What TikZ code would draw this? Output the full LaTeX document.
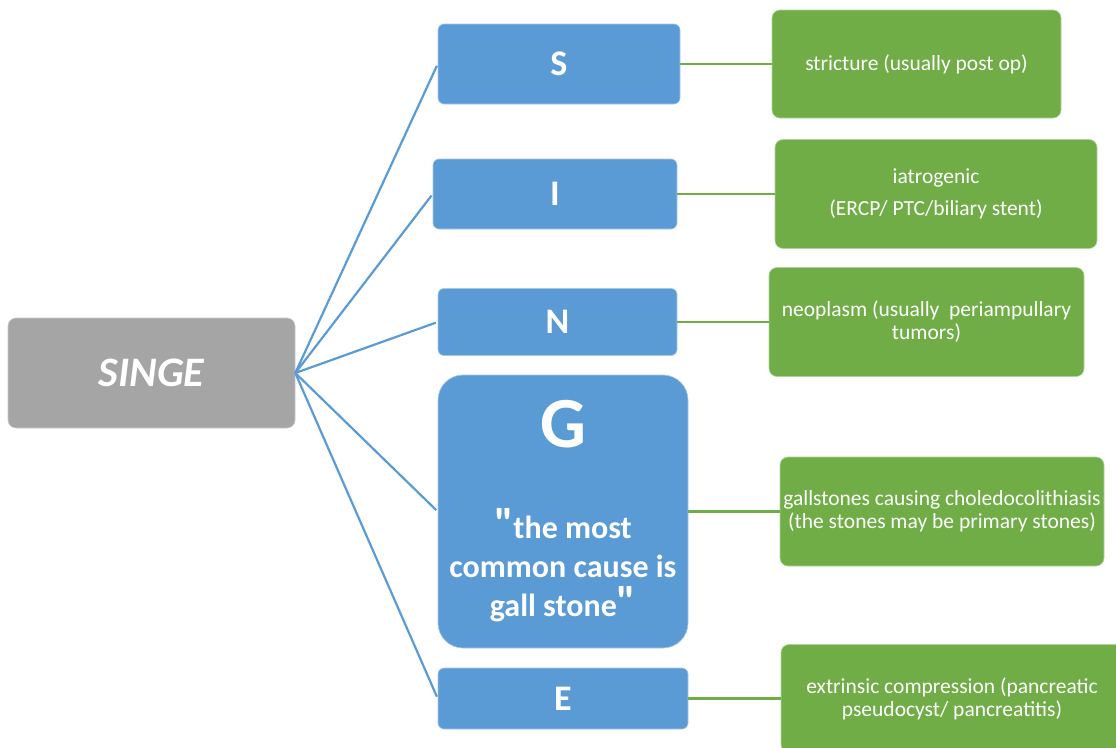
\documentclass[tikz,border=0pt]{standalone}
\usepackage{fontspec}
\setmainfont{Carlito}
\usepackage{xcolor}

\definecolor{singegray}{HTML}{A5A5A5}
\definecolor{letterblue}{HTML}{5B9BD5}
\definecolor{causegreen}{HTML}{70AD47}

\begin{document}
\begin{tikzpicture}[
    x=1pt, y=-1pt,
    root/.style={fill=singegray, draw=singegray!60!white, line width=0.6pt, rounded corners=8pt, minimum width=287pt, minimum height=110pt, text=white, font=\fontsize{42}{50}\selectfont\bfseries\itshape},
    letter/.style={fill=letterblue, draw=letterblue!55!white, line width=0.6pt, rounded corners=6pt, inner sep=0pt, text=white, font=\fontsize{36}{43}\selectfont\bfseries},
    cause/.style={fill=causegreen, draw=causegreen!55!white, line width=0.6pt, rounded corners=8pt, inner sep=0pt, align=center, text=white, font=\fontsize{21.5}{23}\selectfont},
    branch/.style={draw=letterblue, line width=2.2pt, shorten >=2pt},
    link/.style={draw=causegreen, line width=2.2pt}
  ]
    \useasboundingbox (0,0) rectangle (1116,747);
    \clip (0,0) rectangle (1116,747);

    \node[root] (singe) at (151.5,373) {SINGE};

    \node[letter, minimum width=242pt, minimum height=80pt] (s) at (559,64) {S};
    \node[letter, minimum width=244pt, minimum height=70pt] (i) at (555,194) {I};
    \node[letter, minimum width=239pt, minimum height=67pt] (n) at (557.5,322) {N};
    \node[letter, minimum width=250pt, minimum height=273pt, rounded corners=25pt, align=center,
          font=\fontsize{32}{39}\selectfont\bfseries] (g) at (563,511.5)
      {{\fontsize{72}{72}\selectfont G}\\[52pt]
       {\fontsize{44}{0}\selectfont\textquotedbl}the most\\common cause is\\gall stone{\fontsize{44}{0}\selectfont\textquotedbl}};
    \node[letter, minimum width=250pt, minimum height=61pt] (e) at (563,698.5) {E};

    \node[cause, minimum width=289pt, minimum height=108pt] (gs) at (916.5,64) {stricture (usually post op)};
    \node[cause, minimum width=322pt, minimum height=109pt] (gi) at (936,194) {iatrogenic\\[9pt](ERCP/ PTC/biliary stent)};
    \node[cause, minimum width=315pt, minimum height=109pt] (gn) at (926.5,322) {neoplasm (usually\ \ periampullary\\tumors)};
    \node[cause, minimum width=324pt, minimum height=109pt] (gg) at (942,511.5) {gallstones causing choledocolithiasis\\(the stones may be primary stones)};
    \node[cause, minimum width=348pt, minimum height=108pt] (ge) at (955,698.5) {\hspace*{-6pt}extrinsic compression (pancreatic\\\hspace*{-6pt}pseudocyst/ pancreatitis)};

    \draw[branch] (singe.east) -- (s.west);
    \draw[branch] (singe.east) -- (i.west);
    \draw[branch] (singe.east) -- (n.west);
    \draw[branch] (singe.east) -- (g.west);
    \draw[branch] (singe.east) -- (e.west);

    \draw[link] (s) -- (gs);
    \draw[link] (i) -- (gi);
    \draw[link] (n) -- (gn);
    \draw[link] (g) -- (gg);
    \draw[link] (e) -- (ge);
  \end{tikzpicture}
\end{document}
